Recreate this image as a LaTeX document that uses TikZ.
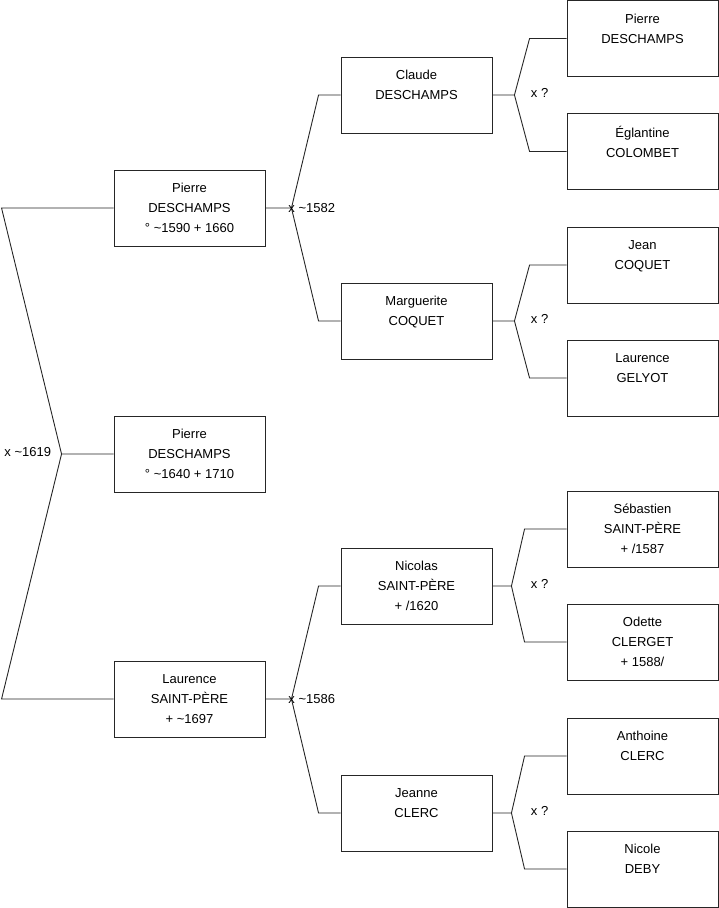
\documentclass[tikz,border=0pt]{standalone}
\usepackage{fontspec}
\setmainfont{Liberation Sans}
\usetikzlibrary{calc,positioning}

\begin{document}
\begin{tikzpicture}[x=1pt,y=-1pt,line width=0.9pt,
  person/.style={draw=black!85,minimum width=151pt,minimum height=76pt,
    inner sep=0pt,align=center,font=\fontsize{13}{20}\selectfont},
  link/.style={draw=black!85},
  union/.style={anchor=west,inner sep=0pt,font=\fontsize{13}{20}\selectfont}]
  \useasboundingbox (0,0) rectangle (719,908);

  % Generation 1: the child and his parents
  \node[person] (pd1590) at (189.5,208) {Pierre\\DESCHAMPS\\° \textasciitilde1590 + 1660};
  \node[person] (pd1640) at (189.5,454) {Pierre\\DESCHAMPS\\° \textasciitilde1640 + 1710};
  \node[person] (lsp)    at (189.5,699) {Laurence\\SAINT-PÈRE\\+ \textasciitilde1697};

  % Generation 2: grandparents
  \node[person] (cd)  at (416.5,95)  {Claude\\DESCHAMPS\\\mbox{}};
  \node[person] (mc)  at (416.5,321) {Marguerite\\COQUET\\\mbox{}};
  \node[person] (nsp) at (416.5,586) {Nicolas\\SAINT-PÈRE\\+ /1620};
  \node[person] (jcl) at (416.5,813) {Jeanne\\CLERC\\\mbox{}};

  % Generation 3: great-grandparents
  \node[person] (pd)  at (642.5,38.5)  {Pierre\\DESCHAMPS\\\mbox{}};
  \node[person] (ec)  at (642.5,151.5) {Églantine\\COLOMBET\\\mbox{}};
  \node[person] (jc)  at (642.5,265)   {Jean\\COQUET\\\mbox{}};
  \node[person] (lg)  at (642.5,378)   {Laurence\\GELYOT\\\mbox{}};
  \node[person] (ssp) at (642.5,529)   {Sébastien\\SAINT-PÈRE\\+ /1587};
  \node[person] (oc)  at (642.5,642)   {Odette\\CLERGET\\+ 1588/};
  \node[person] (ac)  at (642.5,756)   {Anthoine\\CLERC\\\mbox{}};
  \node[person] (nd)  at (642.5,869)   {Nicole\\DEBY\\\mbox{}};

  % Marriage of the parents (fork on the left)
  \draw[link] (pd1640.west) -- ++(-52,0) coordinate (f1619)
    -- ([xshift=-112pt]pd1590.west) coordinate (b1619a) -- (pd1590.west);
  \draw[link] (f1619) -- ([xshift=-112pt]lsp.west) coordinate (b1619b) -- (lsp.west);
  \node[union,anchor=east] (u1619) at ([xshift=-10pt,yshift=2pt]f1619) {x \textasciitilde1619};

  % Marriages of the grandparents
  \foreach \kid/\dad/\mum/\year in {pd1590/cd/mc/1582,lsp/nsp/jcl/1586} {
    \draw[link] (\kid.east) -- ++(26,0) coordinate (f\kid)
      -- ([xshift=-22pt]\dad.west) -- (\dad.west);
    \draw[link] (f\kid) -- ([xshift=-22pt]\mum.west) -- (\mum.west);
    \node[union] (u\kid) at ([xshift=-3.5pt]f\kid) {x \textasciitilde\year};
  }

  % Marriages of the great-grandparents
  \foreach \kid/\dad/\mum/\dx/\ex in {cd/pd/ec/22/37,mc/jc/lg/22/37,
      nsp/ssp/oc/19/42,jcl/ac/nd/19/42} {
    \draw[link] (\kid.east) -- ++(\dx,0) coordinate (f\kid)
      -- ([xshift=-\ex pt]\dad.west) -- (\dad.west);
    \draw[link] (f\kid) -- ([xshift=-\ex pt]\mum.west) -- (\mum.west);
    \node[union] (u\kid) at ([xshift=38pt-\dx pt,yshift=2pt]f\kid) {x ?};
  }
\end{tikzpicture}
\end{document}
